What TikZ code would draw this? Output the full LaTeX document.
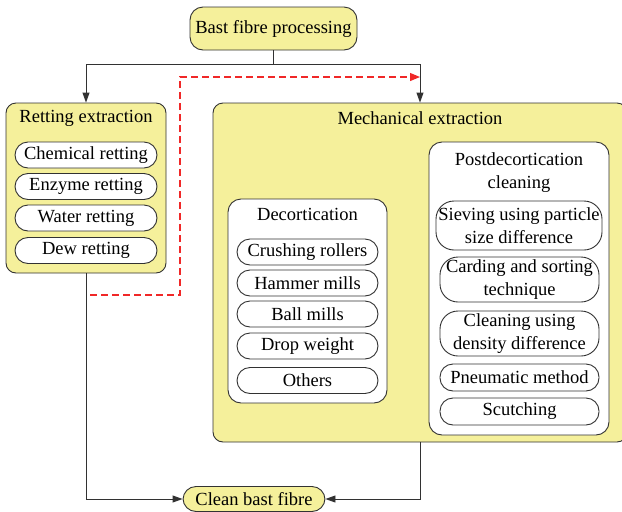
\documentclass[tikz,border=0pt]{standalone}
\usepackage{fontspec}
\setmainfont{Liberation Serif}
\definecolor{bastyellow}{RGB}{245,240,155}
\definecolor{bastred}{RGB}{240,40,40}
\definecolor{bastline}{RGB}{50,50,50}
\usetikzlibrary{arrows.meta,positioning}

\begin{document}
\begin{tikzpicture}[x=1pt,y=-1pt,
    grp/.style={rectangle, rounded corners=10pt, draw=bastline, line width=0.9pt, fill=bastyellow},
    sub/.style={rectangle, rounded corners=13pt, draw=bastline, line width=0.9pt, fill=white},
    ttl/.style={align=center, inner sep=0pt, font=\fontsize{18.5}{22.5}\selectfont},
    pill/.style={rectangle, rounded corners=13pt, draw=bastline, line width=0.9pt, fill=white,
      minimum height=26pt, inner sep=0pt, align=center, font=\fontsize{18.5}{22.5}\selectfont},
    arr/.style={-{Triangle[length=10pt,width=7pt]}, line width=0.9pt, bastline},
    dsh/.style={-{Triangle[length=10pt,width=8pt]}, line width=1.2pt, bastred, dash pattern=on 7pt off 4pt}
  ]
    \useasboundingbox (0,0) rectangle (622,512);

    % Start and end
    \node[pill, fill=bastyellow, minimum width=167pt, minimum height=43pt] (start) at (273.5,28.5) {Bast fibre processing};
    \node[pill, fill=bastyellow, minimum width=142pt, minimum height=25pt] (clean) at (254,499) {Clean bast fibre};

    % Retting extraction
    \node[grp, minimum width=160pt, minimum height=170pt] (ret) at (86,188) {};
    \node[ttl] (rettl) at (86,118) {Retting extraction};
    \node[pill, minimum width=142pt] (chem) at (86,155)   {Chemical retting};
    \node[pill, minimum width=142pt] (enz)  at (86,186.5) {Enzyme retting};
    \node[pill, minimum width=142pt] (wat)  at (86,218)   {Water retting};
    \node[pill, minimum width=142pt] (dew)  at (86,250.5) {Dew retting};

    % Mechanical extraction
    \node[grp, minimum width=414pt, minimum height=339pt] (mech) at (420,272.5) {};
    \node[ttl] (mechttl) at (420,118) {Mechanical extraction};

    % Decortication
    \node[sub, minimum width=159pt, minimum height=204pt] (dec) at (307.5,301) {};
    \node[ttl] (decttl) at (307.5,214) {Decortication};
    \node[pill, minimum width=141pt] (crush)  at (307.5,252) {Crushing rollers};
    \node[pill, minimum width=141pt] (hammer) at (307.5,283) {Hammer mills};
    \node[pill, minimum width=141pt] (ball)   at (307.5,314) {Ball mills};
    \node[pill, minimum width=141pt] (drop)   at (307.5,346) {Drop weight};
    \node[pill, minimum width=141pt] (oth)    at (307.5,380.5) {Others};

    % Postdecortication cleaning
    \node[sub, minimum width=180pt, minimum height=293pt] (post) at (519,288.5) {};
    \node[ttl] (postttl) at (519,172.5) {Postdecortication\\cleaning};
    \node[pill, minimum width=166pt, minimum height=49pt, rounded corners=18pt] (siev) at (519,225.5) {Sieving using particle\\size difference};
    \node[pill, minimum width=159pt, minimum height=45pt, rounded corners=18pt] (card) at (519.5,279.5) {Carding and sorting\\technique};
    \node[pill, minimum width=159pt, minimum height=45pt, rounded corners=18pt] (dens) at (519.5,333.5) {Cleaning using\\density difference};
    \node[pill, minimum width=159pt, minimum height=27pt] (pneu) at (519.5,377.5) {Pneumatic method};
    \node[pill, minimum width=159pt, minimum height=27pt] (scut) at (519.5,411.5) {Scutching};

    % Connectors
    \draw[arr] (start.south) -- ++(0,14) -| (ret.north);
    \draw[arr] (start.south) -- ++(0,14) -| (mech.north);
    \draw[arr] (ret.south) |- (clean.west);
    \draw[arr] (mech.south) |- (clean.east);

    % Dashed return path
    \coordinate (rs) at (90,295);
    \coordinate (rc) at (180,77);
    \draw[dsh] (rs) -| (rc) -- (rc -| mech.north);
  \end{tikzpicture}
\end{document}
